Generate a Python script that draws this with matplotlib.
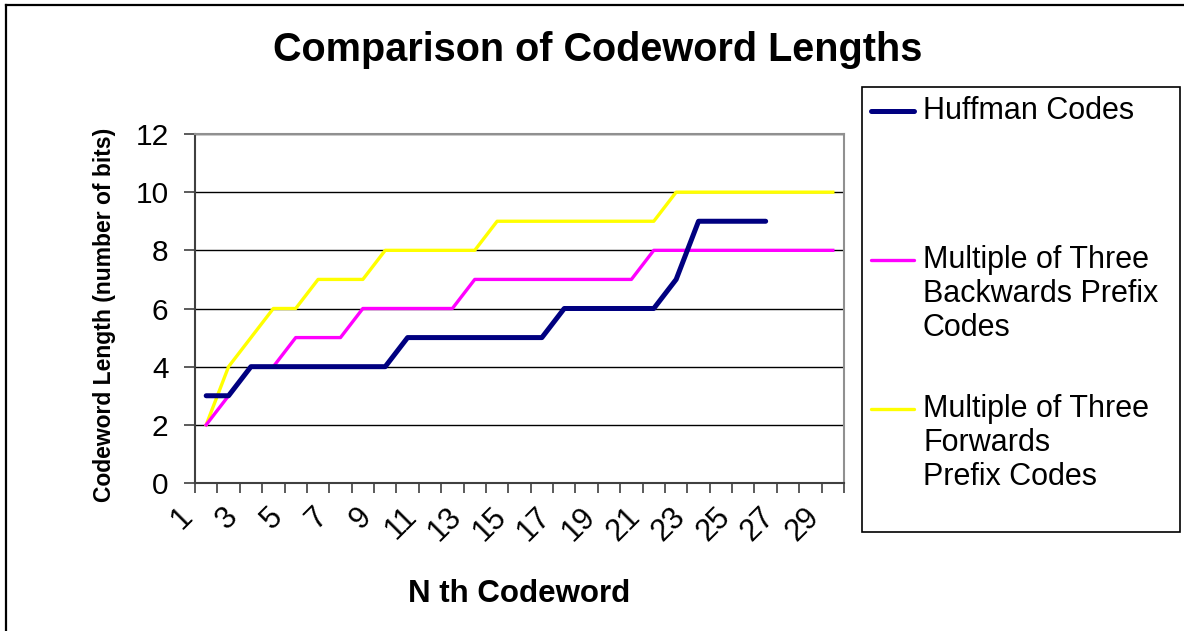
import matplotlib
matplotlib.use("Agg")
import matplotlib.pyplot as plt
from matplotlib.lines import Line2D
from matplotlib.patches import Rectangle
from matplotlib.transforms import ScaledTranslation

plt.rcParams['font.family'] = ['Liberation Sans', 'DejaVu Sans']

# codeword index on the category axis
categories = list(range(1, 30))
tick_labels = [str(c) for c in categories[::2]]

huffman = [3, 3, 4, 4, 4, 4, 4, 4, 4, 5, 5, 5, 5, 5, 5, 5, 6, 6, 6, 6, 6, 7, 9, 9, 9, 9]
backwards = [2, 3, 4, 4, 5, 5, 5, 6, 6, 6, 6, 6, 7, 7, 7, 7, 7, 7, 7, 7,
             8, 8, 8, 8, 8, 8, 8, 8, 8]
forwards = [2, 4, 5, 6, 6, 7, 7, 7, 8, 8, 8, 8, 8, 9, 9, 9, 9, 9, 9, 9, 9,
            10, 10, 10, 10, 10, 10, 10, 10]

series_names = [["Huffman Codes"],
                ["Multiple of Three", "Backwards Prefix", "Codes"],
                ["Multiple of Three", "Forwards", "Prefix Codes"]]
series_colors = ["#000080", "#FF00FF", "#FFFF00"]
series_widths = [3.6, 2.4, 2.4]

W, H = 1184, 631
fig = plt.figure(figsize=(W / 100, H / 100), dpi=100)
ax = fig.add_axes([195 / W, 1 - 483 / H, (844 - 195) / W, (483 - 134) / H])

ax.plot(categories[:len(huffman)], huffman, color=series_colors[0],
        lw=series_widths[0], solid_capstyle='round', zorder=5)
ax.plot(categories, backwards, color=series_colors[1], lw=series_widths[1], zorder=4)
ax.plot(categories, forwards, color=series_colors[2], lw=series_widths[2], zorder=3)

ax.set_xlim(0.5, 29.5)
ax.set_ylim(0, 12)
ax.set_yticks(range(0, 13, 2))
ax.set_yticklabels([str(v) for v in range(0, 13, 2)], fontsize=21.5)
ax.yaxis.grid(True, color='black', lw=1.0)
ax.set_axisbelow(True)

# category borders get the tick marks, odd categories get the labels
ax.set_xticks([c - 0.5 for c in categories] + [29.5], minor=True)
ax.set_xticks(categories[::2])
ax.set_xticklabels(tick_labels, fontsize=22, rotation=45, ha='right',
                   va='center', rotation_mode='anchor')
ax.tick_params(axis='x', which='major', length=0, pad=21)
ax.tick_params(axis='x', which='minor', length=7.5, width=1.2, color='#404040')
ax.tick_params(axis='y', length=8, width=1.2, color='#404040', pad=11)
for lab in ax.get_xticklabels():
    lab.set_transform(lab.get_transform() + ScaledTranslation(-18 / 100, 0, fig.dpi_scale_trans))

for side in ['left', 'bottom']:
    ax.spines[side].set_color('#404040')
    ax.spines[side].set_linewidth(1.5)
for side in ['top', 'right']:
    ax.spines[side].set_color('#909090')
    ax.spines[side].set_linewidth(1.5)

fig.text(598 / W, 1 - 50 / H, "Comparison of Codeword Lengths", fontsize=28.5,
         fontweight='bold', ha='center', va='center')
fig.text(105 / W, 1 - 315 / H, "Codeword Length (number of bits)", fontsize=16.5,
         fontweight='bold', rotation=90, ha='center', va='center')
fig.text(519 / W, 1 - 594 / H, "N th Codeword", fontsize=22.5,
         fontweight='bold', ha='center', va='center')

# legend box drawn in pixel positions of the reference
fig.add_artist(Rectangle((862 / W, 1 - 532 / H), (1180 - 862) / W, (532 - 87) / H,
                         transform=fig.transFigure, fill=False, ec='black', lw=1.2))
first_rows = [111, 260, 409]
for names, col, lw, y0 in zip(series_names, series_colors, series_widths, first_rows):
    fig.add_artist(Line2D([871 / W, 914 / W], [1 - y0 / H, 1 - y0 / H], color=col,
                          lw=lw, solid_capstyle='round', transform=fig.transFigure))
    for i, name in enumerate(names):
        fig.text(923 / W, 1 - (y0 + 34 * i) / H, name, fontsize=22,
                 ha='left', va='center')

# outer chart border (clipped at right and bottom)
fig.add_artist(Line2D([6 / W, 6 / W], [0, 1 - 5 / H], color='black', lw=1.6,
                      transform=fig.transFigure))
fig.add_artist(Line2D([6 / W, 1], [1 - 5 / H, 1 - 5 / H], color='black', lw=1.6,
                      transform=fig.transFigure))

fig.savefig("out.png", dpi=100)
